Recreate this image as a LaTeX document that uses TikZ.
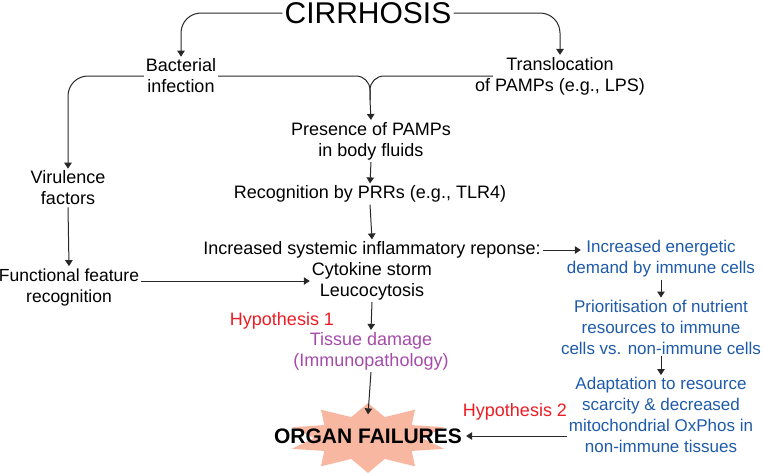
\documentclass[tikz,border=0pt]{standalone}
\usepackage{fontspec}
\setmainfont{Liberation Sans}
\usetikzlibrary{arrows.meta}
\definecolor{hyp_red}{RGB}{237, 28, 36}
\definecolor{path_purple}{RGB}{165, 75, 170}
\definecolor{energy_blue}{RGB}{30, 90, 170}
\definecolor{burst_fill}{RGB}{247, 183, 160}
\definecolor{line_grey}{RGB}{40, 40, 40}
\tikzstyle{txt}=[align=center,font=\fontsize{18}{21}\selectfont,inner sep=2pt]
\tikzstyle{big}=[txt,font=\fontsize{30}{34}\selectfont]
\tikzstyle{hyp}=[txt,text=hyp_red]
\tikzstyle{pur}=[txt,text=path_purple]
\tikzstyle{blu}=[txt,text=energy_blue,font=\fontsize{17}{21}\selectfont]
\tikzstyle{fail}=[align=center,font=\fontsize{21}{24}\selectfont\bfseries,
  inner xsep=4pt,inner ysep=14pt]
\tikzstyle{arr}=[draw=line_grey,line width=1pt,-{Triangle[length=6pt,width=7.5pt]}]
\tikzstyle{ln}=[draw=line_grey,line width=1pt]

\begin{document}
\begin{tikzpicture}[x=1pt,y=-1pt]
    \useasboundingbox (0,0) rectangle (764,475);
    \fill [burst_fill] plot [samples at={0,...,19}, variable=\k]
      ({368 + (isodd(\k) ? 54 : 80)*cos(90+18*\k)},
       {438 - (isodd(\k) ? 22 : 35)*sin(90+18*\k)}) -- cycle;
    \node [style=big] (cirr) at (368,13) {CIRRHOSIS};
    \node [style=txt] (bact) at (181,76) {Bacterial\\infection};
    \node [style=txt] (trans) at (560,76) {Translocation\\of PAMPs (e.g., LPS)};
    \node [style=txt] (pres) at (371,141) {Presence of PAMPs\\in body fluids};
    \node [style=txt] (prr) at (370,194) {Recognition by PRRs (e.g., TLR4)};
    \node [style=txt] (inflam) at (372,250) {Increased systemic inflammatory reponse:};
    \node [style=txt] (cyto) at (372,281) {Cytokine storm\\Leucocytosis};
    \node [style=txt] (vir) at (68,188) {Virulence\\factors};
    \node [style=txt,font=\fontsize{17.5}{21}\selectfont] (func) at (69,287) {Functional feature\\recognition};
    \node [style=hyp] (hyp1) at (282,321) {Hypothesis 1};
    \node [style=pur] (tissue) at (371,351) {Tissue damage\\(Immunopathology)};
    \node [style=fail] (organ) at (368,436) {ORGAN FAILURES};
    \node [style=blu] (energy) at (661,259) {Increased energetic\\demand by immune cells};
    \node [style=blu] (prior) at (661,327) {Prioritisation of nutrient\\resources to immune\\cells vs. non-immune cells};
    \node [style=blu] (adapt) at (661,415) {Adaptation to resource\\scarcity \& decreased\\mitochondrial OxPhos in\\non-immune tissues};
    \node [style=hyp] (hyp2) at (515,412) {Hypothesis 2};
    \coordinate (join) at (370,100);
    \draw [style=arr,rounded corners=20pt] (cirr.west) -| (bact.north);
    \draw [style=arr,rounded corners=20pt] (cirr.east) -| (trans.north);
    \draw [style=arr,rounded corners=20pt] (bact.west) -| (vir.north);
    \draw [style=ln,rounded corners=14pt] (bact.east) -| (join);
    \draw [style=ln,rounded corners=14pt] ([xshift=20pt]trans.west) -| (join);
    \draw [style=arr] (join) to (pres.north);
    \draw [style=arr] (pres.south) to (prr.north);
    \draw [style=arr] (prr.south) to (inflam.north);
    \draw [style=arr] (vir.south) to (func.north);
    \draw [style=arr] (cyto.west -| func.east) to (cyto.west);
    \draw [style=arr] (cyto.south) to (tissue.north);
    \draw [style=arr] (tissue.south) to (organ.north);
    \draw [style=arr] (inflam.east) to ([xshift=16pt]inflam.east -| energy.west);
    \draw [style=arr] (energy.south) to (prior.north);
    \draw [style=arr] (prior.south) to (adapt.north);
    \draw [style=arr] (organ.east -| adapt.west) to (organ.east);
  \end{tikzpicture}
\end{document}
